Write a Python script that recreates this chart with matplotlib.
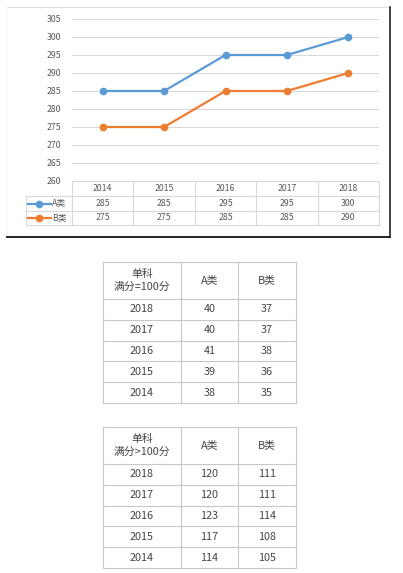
import numpy as np
import matplotlib.pyplot as plt

plt.rcParams['font.family'] = ['Noto Sans CJK SC', 'DejaVu Sans']

# data
years = ['2014', '2015', '2016', '2017', '2018']
score_a = [285, 285, 295, 295, 300]
score_b = [275, 275, 285, 285, 290]
series_names = ['A类', 'B类']

tbl_years = ['2018', '2017', '2016', '2015', '2014']
single_100_a = [40, 40, 41, 39, 38]
single_100_b = [37, 37, 38, 36, 35]
single_gt100_a = [120, 120, 123, 117, 114]
single_gt100_b = [111, 111, 114, 108, 105]
head_1 = '单科\n满分=100分'
head_2 = '单科\n满分>100分'
col_heads = ['A类', 'B类']

W, H = 403, 573
blue, orange = '#5B9BD5', '#ED7D31'
grid_c = '#D9D9D9'
txt_c = '#595959'

fig = plt.figure(figsize=(W / 100, H / 100), dpi=100)

# overlay in pixel coordinates for frames and tables
bg = fig.add_axes([0, 0, 1, 1])
bg.set_xlim(0, W)
bg.set_ylim(H, 0)
bg.axis('off')

# chart frame
bg.plot([7, 390], [7, 7], color='#E0E0E0', lw=0.8)
bg.plot([7, 7], [7, 237], color='#F6F6F6', lw=0.6)
bg.plot([390, 390], [7, 237], color='#222222', lw=1.2)
bg.plot([7, 390], [237, 237], color='#222222', lw=1.4)

# line chart
px0, px1, py0, py1 = 72, 379, 19, 181
ax = fig.add_axes([px0 / W, 1 - py1 / H, (px1 - px0) / W, (py1 - py0) / H])
x = np.arange(len(years))
ax.plot(x, score_a, color=blue, lw=1.6, marker='o', ms=4.5, zorder=3)
ax.plot(x, score_b, color=orange, lw=1.6, marker='o', ms=4.5, zorder=3)
ax.set_xlim(-0.5, len(years) - 0.5)
ax.set_ylim(260, 305)
ax.set_yticks(np.arange(260, 306, 5))
ax.set_xticks([])
ax.yaxis.grid(True, color=grid_c, lw=0.8)
ax.set_axisbelow(True)
for s in ax.spines.values():
    s.set_visible(False)
ax.tick_params(axis='y', length=0, labelsize=6.3, labelcolor=txt_c, pad=8)

# data table under chart
cw = (px1 - px0) / len(years)
rows_y = [181, 196, 211, 225]
bg.plot([px0, px1], [rows_y[0], rows_y[0]], color=grid_c, lw=0.8)
for yy in rows_y[1:]:
    bg.plot([26, px1], [yy, yy], color=grid_c, lw=0.8)
bg.plot([26, 26], [rows_y[1], rows_y[3]], color=grid_c, lw=0.8)
for k in range(len(years) + 1):
    xx = px0 + k * cw
    bg.plot([xx, xx], [rows_y[0], rows_y[3]], color=grid_c, lw=0.8)
for k, yr in enumerate(years):
    cx = px0 + (k + 0.5) * cw
    bg.text(cx, (rows_y[0] + rows_y[1]) / 2, yr, ha='center', va='center',
            fontsize=6.3, color=txt_c)
    bg.text(cx, (rows_y[1] + rows_y[2]) / 2, str(score_a[k]), ha='center',
            va='center', fontsize=6.3, color=txt_c)
    bg.text(cx, (rows_y[2] + rows_y[3]) / 2, str(score_b[k]), ha='center',
            va='center', fontsize=6.3, color=txt_c)
for i, (name, c) in enumerate(zip(series_names, [blue, orange])):
    yy = (rows_y[i + 1] + rows_y[i + 2]) / 2
    bg.plot([28, 51], [yy, yy], color=c, lw=1.6)
    bg.plot([39], [yy], marker='o', color=c, ms=4.5)
    bg.text(52, yy, name, ha='left', va='center', fontsize=6.3, color=txt_c)


def draw_table(top, head, va, vb):
    cols = [103, 181, 238, 296]
    head_h = 37
    row_h = 20.8
    ys = [top, top + head_h] + [top + head_h + row_h * (i + 1) for i in range(5)]
    lc = '#C8C8C8'
    for yy in ys:
        bg.plot([cols[0], cols[-1]], [yy, yy], color=lc, lw=0.8)
    for xx in cols:
        bg.plot([xx, xx], [ys[0], ys[-1]], color=lc, lw=0.8)
    hy = top + head_h / 2
    bg.text((cols[0] + cols[1]) / 2, hy, head, ha='center', va='center',
            fontsize=7.8, color='#454545', linespacing=1.25)
    for j, h in enumerate(col_heads):
        bg.text((cols[j + 1] + cols[j + 2]) / 2, hy, h, ha='center',
                va='center', fontsize=7.8, color='#454545')
    for i in range(5):
        cy = (ys[i + 1] + ys[i + 2]) / 2
        for j, v in enumerate([tbl_years[i], va[i], vb[i]]):
            bg.text((cols[j] + cols[j + 1]) / 2, cy, str(v), ha='center',
                    va='center', fontsize=7.8, color='#454545')


draw_table(262, head_1, single_100_a, single_100_b)
draw_table(427, head_2, single_gt100_a, single_gt100_b)

fig.savefig('out.png', dpi=100)
